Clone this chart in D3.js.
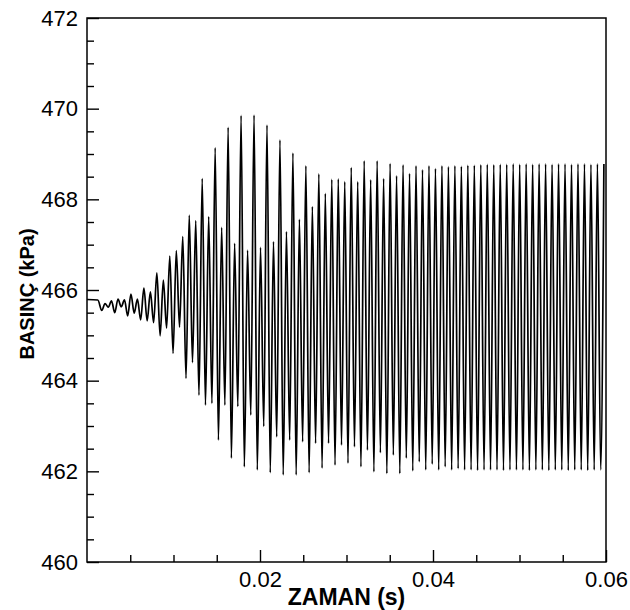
<!DOCTYPE html>
<html>
<head>
<meta charset="utf-8">
<script src="https://cdn.jsdelivr.net/npm/d3@7"></script>
<style>
  body { margin: 0; background: #fff; }
  text { font-family: "Liberation Sans", Arial, sans-serif; fill: #000; }
</style>
</head>
<body>
<div id="chart"></div>
<script>
// pressure trace (kPa), one trough + one peak per cycle
var leadTime = [0, 0.00125];
var leadPressure = [465.79, 465.78];

var cycleStart = 0.00171;   // time of first trough (s)
var cyclePeriod = 0.000749; // s

var troughs = [
  465.55, 465.62, 465.50, 465.63, 465.43, 465.49, 465.34, 465.32, 465.28, 464.99,
  465.16, 464.60, 465.18, 464.05, 464.40, 463.68, 463.46, 463.50, 462.69, 463.46,
  462.29, 463.43, 462.10, 463.24, 462.03, 462.99, 461.97, 462.76, 461.92, 462.69,
  461.92, 462.65, 461.97, 462.62, 462.07, 462.62, 462.14, 462.58, 462.18, 462.54,
  462.10, 462.47, 461.99, 462.41, 461.95, 462.36, 461.95, 462.29, 462.01, 462.21,
  462.03, 462.16, 462.03, 462.10, 462.03, 462.06, 462.03, 462.03, 462.02, 462.03,
  462.03, 462.03, 462.02, 462.03, 462.03, 462.03, 462.02, 462.03, 462.03, 462.02,
  462.03, 462.03, 462.02, 462.03, 462.03, 462.02, 462.03, 462.03
];

var peaks = [
  465.70, 465.76, 465.80, 465.78, 465.91, 465.80, 466.04, 465.96, 466.38, 466.22,
  466.75, 466.87, 467.18, 467.65, 467.53, 468.46, 467.62, 469.14, 467.38, 469.59,
  467.03, 469.85, 466.88, 469.86, 466.94, 469.64, 467.07, 469.31, 467.29, 469.02,
  467.56, 468.74, 467.84, 468.56, 468.13, 468.44, 468.45, 468.39, 468.70, 468.39,
  468.85, 468.43, 468.85, 468.46, 468.79, 468.52, 468.76, 468.57, 468.74, 468.65,
  468.74, 468.68, 468.74, 468.72, 468.74, 468.73, 468.75, 468.75, 468.76, 468.77,
  468.76, 468.77, 468.77, 468.78, 468.77, 468.78, 468.77, 468.78, 468.78, 468.77,
  468.78, 468.78, 468.77, 468.78, 468.78, 468.77, 468.78, 468.78
];

var xMajor = [0.02, 0.04, 0.06];
var xMinor = [0.005, 0.01, 0.015, 0.025, 0.03, 0.035, 0.045, 0.05, 0.055];
var yMajor = [460, 462, 464, 466, 468, 470, 472];
var yMinor = d3.range(460.5, 472, 0.5).filter(function(v) { return v % 2 !== 0; });

var svgWidth = 630;
var svgHeight = 610;
var margin = { top: 18, right: 24, bottom: 48, left: 87 };
var width = svgWidth - margin.left - margin.right;
var height = svgHeight - margin.top - margin.bottom;

var svg = d3.select("#chart")
  .append("svg")
  .attr("width", svgWidth)
  .attr("height", svgHeight);

var chartGroup = svg.append("g")
  .attr("transform", `translate(${margin.left}, ${margin.top})`);

var xScale = d3.scaleLinear().domain([0, 0.06]).range([0, width]);
var yScale = d3.scaleLinear().domain([460, 472]).range([height, 0]);

// build the trace table
var trace = [];
leadTime.forEach(function(t, i) { trace.push({ t: t, p: leadPressure[i] }); });
troughs.forEach(function(v, k) {
  trace.push({ t: cycleStart + k * cyclePeriod, p: v });
  trace.push({ t: cycleStart + (k + 0.5) * cyclePeriod, p: peaks[k] });
});

chartGroup.append("clipPath")
  .attr("id", "plotClip")
  .append("rect")
  .attr("width", width)
  .attr("height", height);

var line = d3.line()
  .x(d => xScale(d.t))
  .y(d => yScale(d.p))
  .curve(d3.curveMonotoneX);

chartGroup.append("path")
  .datum(trace)
  .attr("clip-path", "url(#plotClip)")
  .attr("fill", "none")
  .attr("stroke", "#000")
  .attr("stroke-width", 1.7)
  .attr("stroke-linejoin", "round")
  .attr("d", line);

// minor ticks
chartGroup.append("g")
  .attr("transform", `translate(0, ${height})`)
  .call(d3.axisBottom(xScale).tickValues(xMinor).tickSize(-7).tickFormat(""))
  .call(g => g.select(".domain").remove());

chartGroup.append("g")
  .call(d3.axisLeft(yScale).tickValues(yMinor).tickSize(-7).tickFormat(""))
  .call(g => g.select(".domain").remove());

// major ticks with labels
var xAxis = chartGroup.append("g")
  .attr("transform", `translate(0, ${height})`)
  .call(d3.axisBottom(xScale).tickValues(xMajor).tickSize(-12).tickPadding(9)
    .tickFormat(d3.format(".2f")));
xAxis.select(".domain").remove();

var yAxis = chartGroup.append("g")
  .call(d3.axisLeft(yScale).tickValues(yMajor).tickSize(-12).tickPadding(9)
    .tickFormat(d3.format("d")));
yAxis.select(".domain").remove();

svg.selectAll(".tick line").attr("stroke", "#000").attr("stroke-width", 1.4);
svg.selectAll(".tick text")
  .style("font-family", "'Liberation Sans', Arial, sans-serif")
  .style("font-size", "22px")
  .attr("fill", "#000");

// frame
chartGroup.append("rect")
  .attr("width", width)
  .attr("height", height)
  .attr("fill", "none")
  .attr("stroke", "#000")
  .attr("stroke-width", 1.5);

// axis titles
svg.append("text")
  .attr("x", margin.left + width / 2)
  .attr("y", 605)
  .attr("text-anchor", "middle")
  .style("font-size", "23px")
  .style("font-weight", "bold")
  .text("ZAMAN (s)");

svg.append("text")
  .attr("transform", `translate(34, ${margin.top + height / 2 + 4}) rotate(-90)`)
  .attr("text-anchor", "middle")
  .style("font-size", "20px")
  .style("font-weight", "bold")
  .text("BASINÇ (kPa)");
</script>
</body>
</html>
